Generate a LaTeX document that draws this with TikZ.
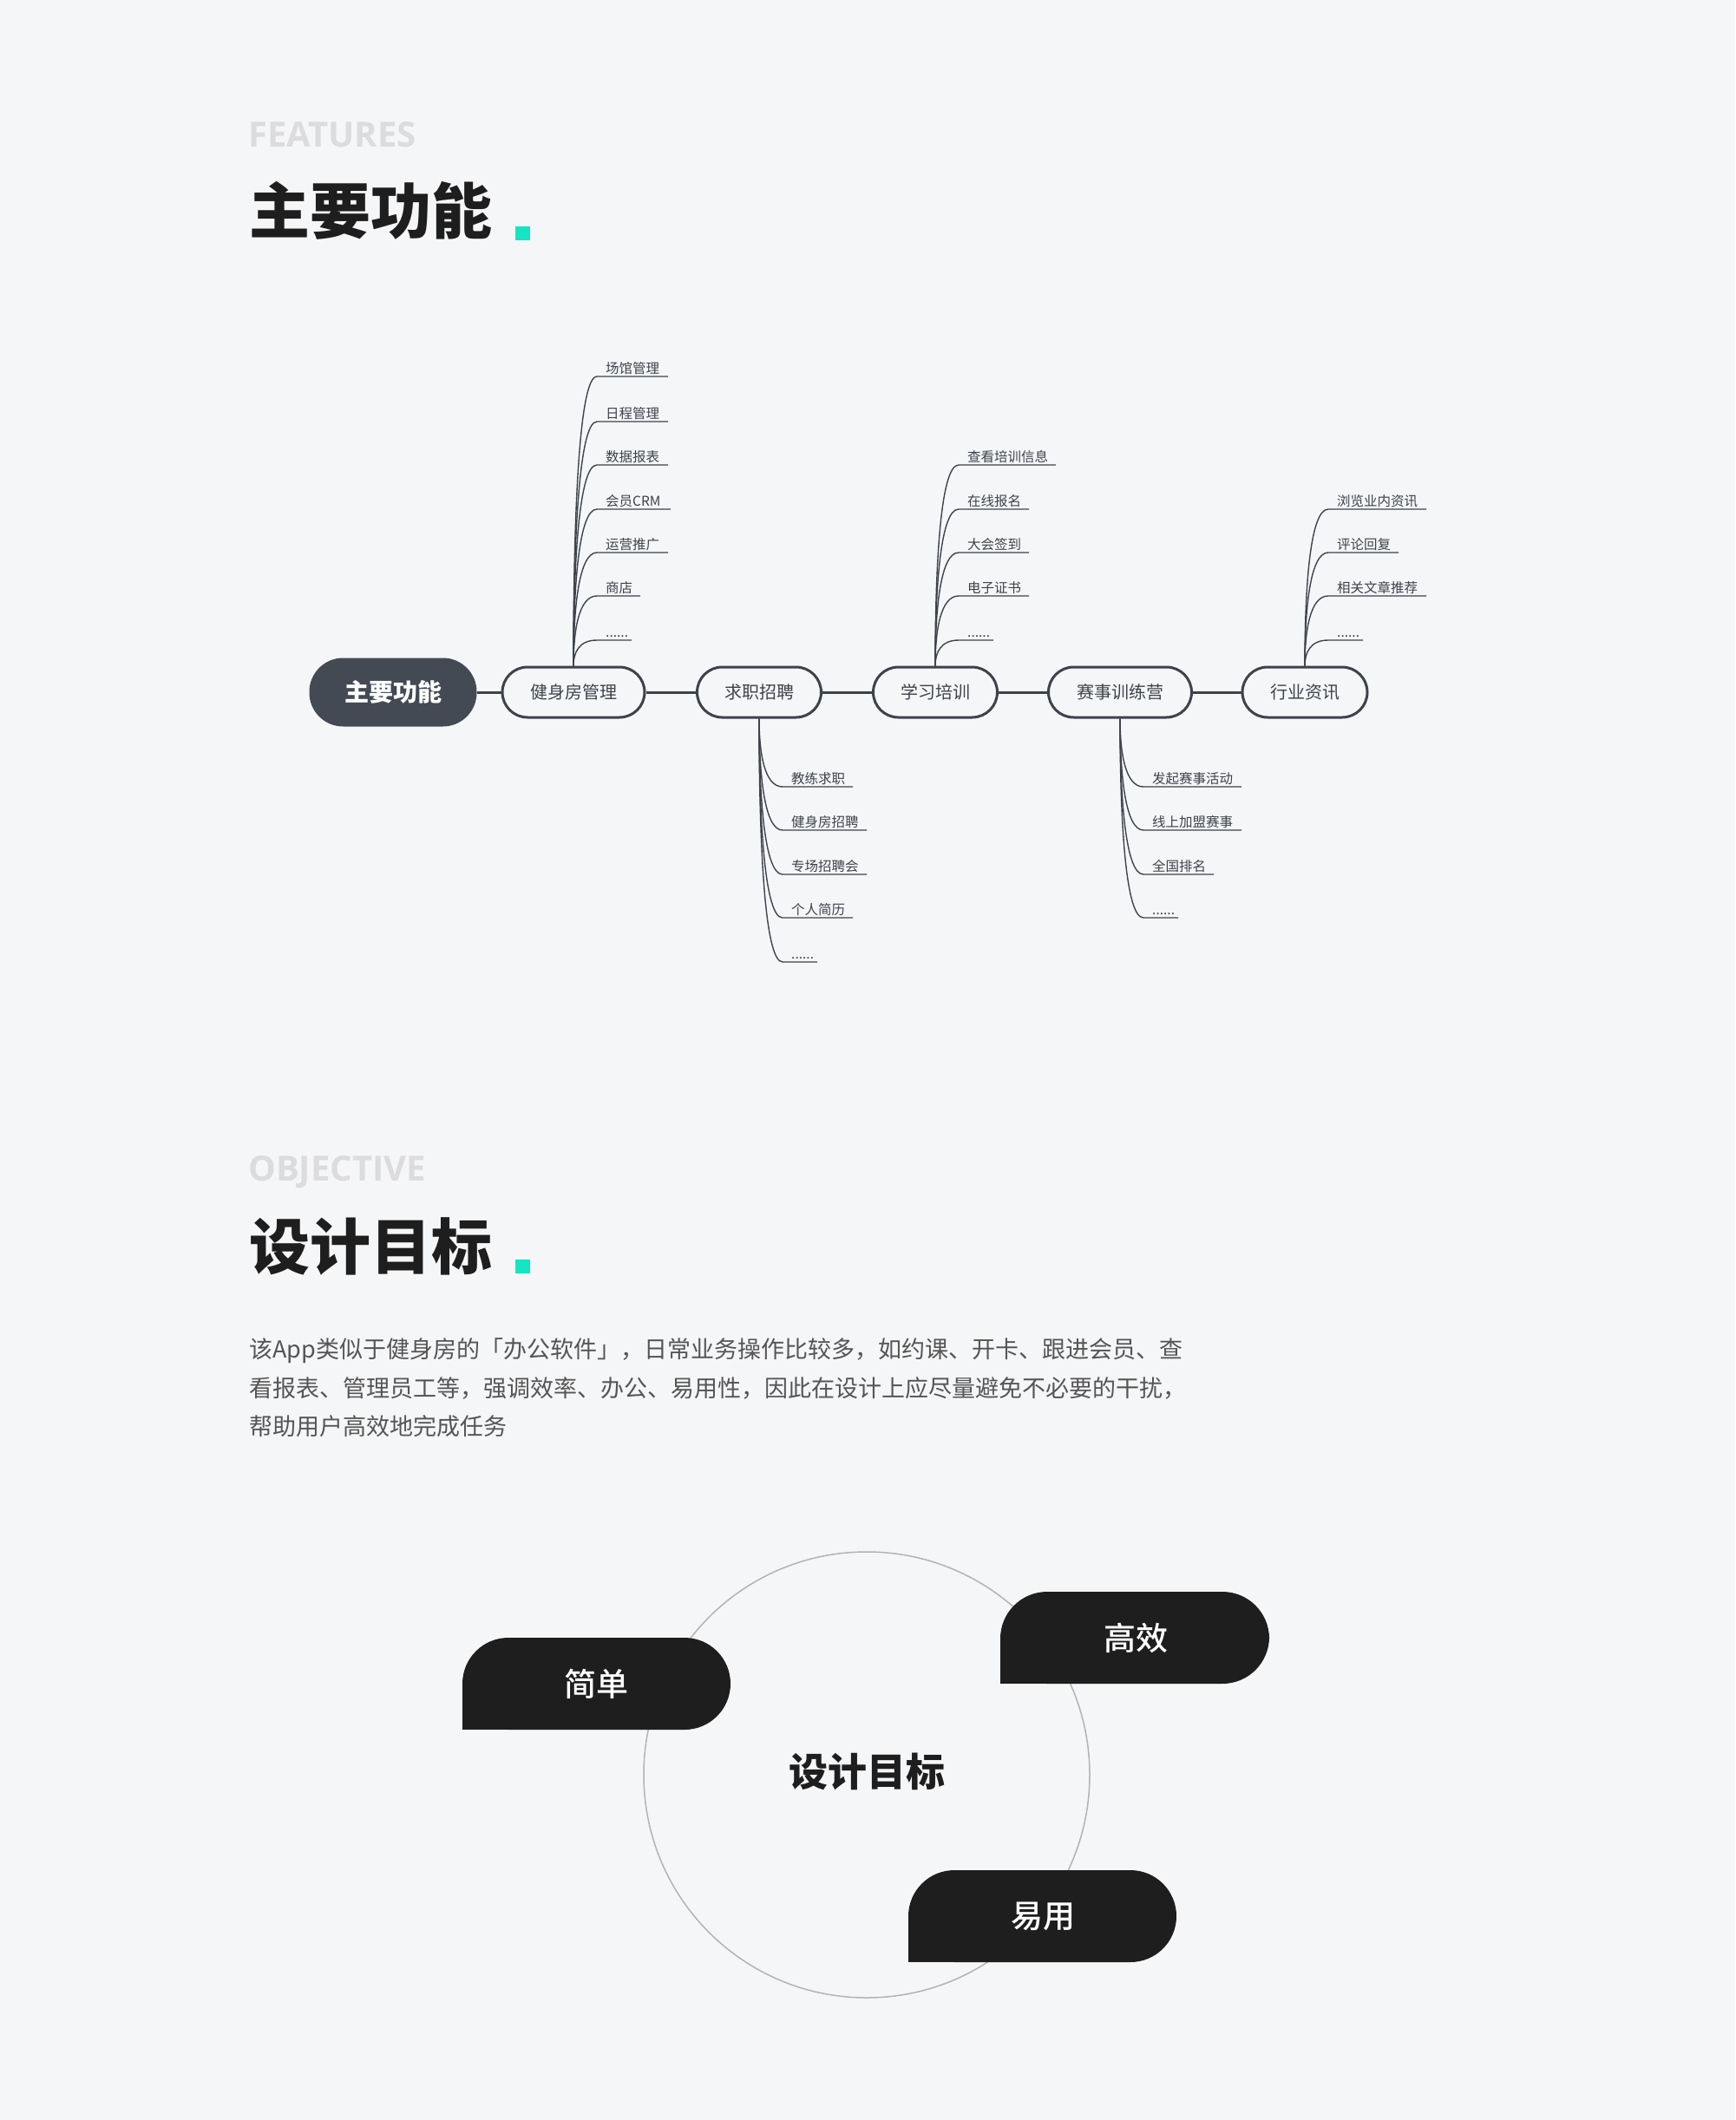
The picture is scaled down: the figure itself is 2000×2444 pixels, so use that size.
\documentclass[tikz,border=0pt]{standalone}
\usepackage{fontspec}
\setmainfont{Noto Sans CJK SC}
\newfontfamily\osans{Open Sans}
\newfontfamily\cjkmed{Noto Sans CJK SC Medium}
\usetikzlibrary{calc}
\definecolor{bg}{HTML}{F5F6F8}
\definecolor{ln}{HTML}{3D434B}
\definecolor{rootc}{HTML}{434A54}
\definecolor{accent}{HTML}{14E6C3}
\definecolor{ghost}{HTML}{DCDCDF}
\definecolor{titlec}{HTML}{1E1E1E}
\definecolor{bodyc}{HTML}{555555}
\definecolor{pillc}{HTML}{1E1E1E}
\definecolor{ring}{HTML}{B3B3B3}
\newcommand\twigup[5]{%
  \node[leaf] (#1-#3) at (#2+37,#3-4) {#5};
  \draw[twig] (#1.north) .. controls ($(#1.north)!0.5!(#2,#3)$) and (#2+6,#3) .. (#2+27,#3) -- (#4,#3);}
\newcommand\twigdown[5]{%
  \node[leaf] (#1-#3) at (#2+37,#3-4) {#5};
  \draw[twig] (#1.south) .. controls ($(#1.south)!0.5!(#2,#3)$) and (#2+6,#3) .. (#2+27,#3) -- (#4,#3);}
\begin{document}
\begin{tikzpicture}[x=1pt,y=-1pt,
  ghosttxt/.style={anchor=base west, inner sep=0, text=ghost, font=\osans\bfseries\fontsize{40}{48}\selectfont},
  bigtitle/.style={anchor=base west, inner sep=0, text=titlec, font=\bfseries\fontsize{70}{84}\selectfont},
  para/.style={anchor=base west, inner sep=0, text=bodyc, font=\fontsize{27}{32}\selectfont},
  mainnode/.style={draw=ln, line width=3pt, fill=bg, rounded corners=29pt, minimum height=58pt, inner sep=0, text=ln, font=\fontsize{20}{24}\selectfont},
  rootnode/.style={fill=rootc, rounded corners=39pt, minimum height=79pt, minimum width=193pt, inner sep=0, text=white, font=\bfseries\fontsize{28}{32}\selectfont},
  leaf/.style={anchor=base west, inner sep=0, text=ln, font=\fontsize{15.5}{18}\selectfont},
  link/.style={draw=ln, line width=3pt},
  twig/.style={draw=ln, line width=1.4pt},
  pilltxt/.style={inner sep=0, text=white, font=\cjkmed\fontsize{37}{44}\selectfont},
]
\fill[bg] (0,0) rectangle (2000,2444);
\useasboundingbox (0,0) rectangle (2000,2444);

% ---------- section 1 ----------
\node[ghosttxt] (feat) at (286,169) {FEATURES};
\node[bigtitle] (t1) at (287,269) {主要功能};
\fill[accent] (594,261) rectangle (611,277);

\node[rootnode] (root) at (453,798) {主要功能};
\node[mainnode, minimum width=164pt] (gym) at (661,798) {健身房管理};
\node[mainnode, minimum width=143pt] (job) at (875,798) {求职招聘};
\node[mainnode, minimum width=143pt] (learn) at (1078,798) {学习培训};
\node[mainnode, minimum width=165pt] (race) at (1291,798) {赛事训练营};
\node[mainnode, minimum width=144pt] (news) at (1504,798) {行业资讯};
\draw[link] (root.east) -- (gym.west);
\draw[link] (gym.east) -- (job.west);
\draw[link] (job.east) -- (learn.west);
\draw[link] (learn.east) -- (race.west);
\draw[link] (race.east) -- (news.west);

\twigup{gym}{661}{434}{770}{场馆管理}
\twigup{gym}{661}{486}{770}{日程管理}
\twigup{gym}{661}{536}{770}{数据报表}
\twigup{gym}{661}{587}{773}{会员CRM}
\twigup{gym}{661}{637}{770}{运营推广}
\twigup{gym}{661}{687}{738}{商店}
\twigup{gym}{661}{738}{728}{......}

\twigdown{job}{875}{907}{983}{教练求职}
\twigdown{job}{875}{957}{999}{健身房招聘}
\twigdown{job}{875}{1008}{999}{专场招聘会}
\twigdown{job}{875}{1058}{983}{个人简历}
\twigdown{job}{875}{1109}{942}{......}

\twigup{learn}{1078}{536}{1217}{查看培训信息}
\twigup{learn}{1078}{587}{1186}{在线报名}
\twigup{learn}{1078}{637}{1186}{大会签到}
\twigup{learn}{1078}{687}{1186}{电子证书}
\twigup{learn}{1078}{738}{1145}{......}

\twigdown{race}{1291}{907}{1431}{发起赛事活动}
\twigdown{race}{1291}{957}{1431}{线上加盟赛事}
\twigdown{race}{1291}{1008}{1399}{全国排名}
\twigdown{race}{1291}{1058}{1358}{......}

\twigup{news}{1504}{587}{1644}{浏览业内资讯}
\twigup{news}{1504}{637}{1612}{评论回复}
\twigup{news}{1504}{687}{1644}{相关文章推荐}
\twigup{news}{1504}{738}{1571}{......}

% ---------- section 2 ----------
\node[ghosttxt] (obj) at (286,1361) {OBJECTIVE};
\node[bigtitle] (t2) at (287,1463) {设计目标};
\fill[accent] (594,1452) rectangle (611,1468);

\node[para] (p1) at (287,1565) {该App类似于健身房的「办公软件」，日常业务操作比较多，如约课、开卡、跟进会员、查};
\node[para] (p2) at (287,1610) {看报表、管理员工等，强调效率、办公、易用性，因此在设计上应尽量避免不必要的干扰，};
\node[para] (p3) at (287,1654) {帮助用户高效地完成任务};

% ---------- goal diagram ----------
\draw[ring, line width=1.5pt] (999,2046) circle[radius=257pt];
\node[inner sep=0, text=titlec, font=\bfseries\fontsize{45}{54}\selectfont] (goal) at (999,2042) {设计目标};

% pills: full pill + square bottom-left
\fill[pillc, rounded corners=53pt] (533,1888) rectangle (842,1994);
\fill[pillc] (533,1941) rectangle (600,1994);
\node[pilltxt] (simple) at (687,1941) {简单};

\fill[pillc, rounded corners=54pt] (1153,1835) rectangle (1463,1941);
\fill[pillc] (1153,1888) rectangle (1220,1941);
\node[pilltxt] (eff) at (1309,1888) {高效};

\fill[pillc, rounded corners=53pt] (1047,2156) rectangle (1356,2262);
\fill[pillc] (1047,2209) rectangle (1114,2262);
\node[pilltxt] (easy) at (1202,2209) {易用};
\end{tikzpicture}
\end{document}
